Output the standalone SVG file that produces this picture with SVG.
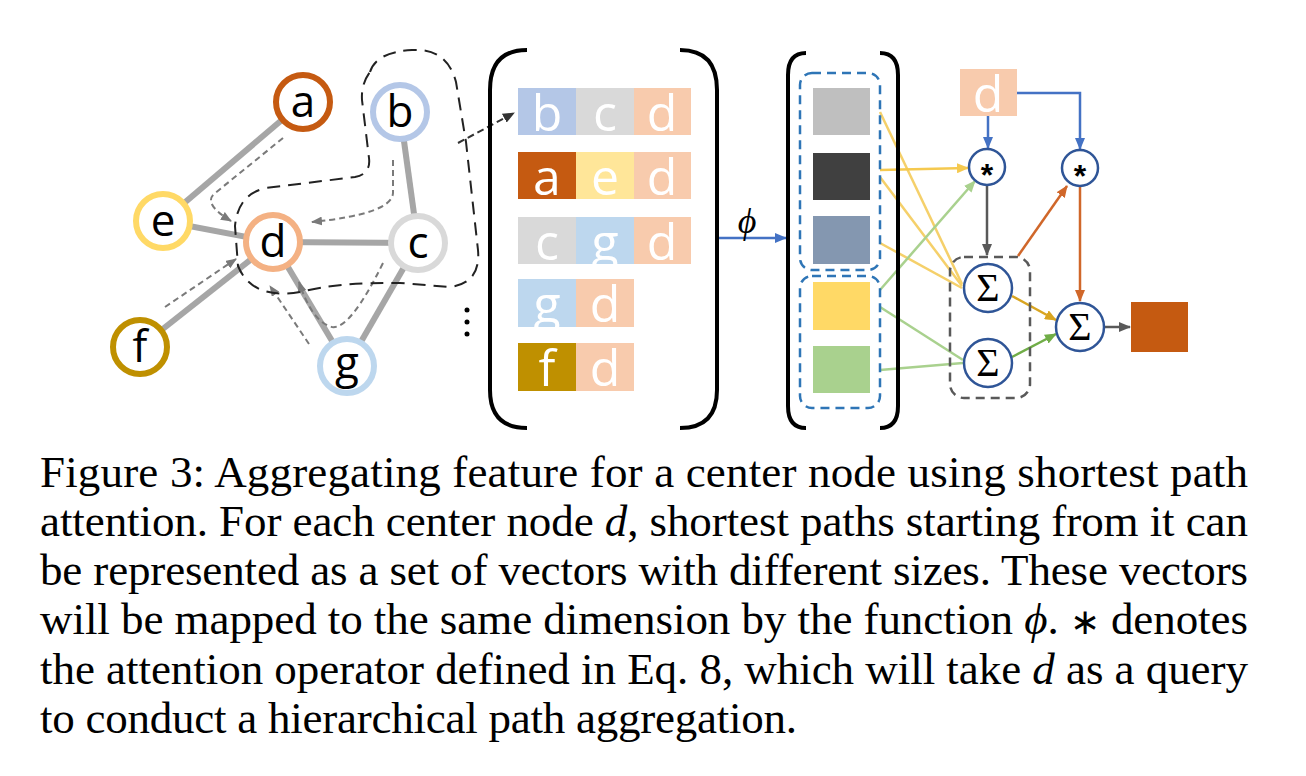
<svg xmlns="http://www.w3.org/2000/svg" width="1306" height="776" viewBox="0 0 1306 776">
<style>
.edge{stroke:#a6a6a6;stroke-width:6;fill:none}
.darr{stroke:#7a7a7a;stroke-width:2;stroke-dasharray:6 4;fill:none}
.node{fill:#fff;stroke-width:6}
.nlab{font-family:"Open Sans","Noto Sans",sans-serif;font-size:44px;text-anchor:middle;fill:#000}
.clab{font-family:"Open Sans","Noto Sans",sans-serif;font-size:50px;text-anchor:middle;fill:#fff}
.brk{stroke:#000;stroke-width:4;fill:none}
.bdash{stroke:#2e75b6;stroke-width:2.5;stroke-dasharray:9 6;fill:none}
.gdash{stroke:#595959;stroke-width:2.5;stroke-dasharray:9 6;fill:none}
.op{fill:#fff;stroke:#2f5597;stroke-width:2.5}
.sig{font-family:"Liberation Serif","DejaVu Serif",serif;font-size:40px;text-anchor:middle;fill:#000}
.ast{font-family:"Liberation Sans",sans-serif;font-size:32px;font-weight:bold;text-anchor:middle;fill:#000}
.cap{font-family:"Liberation Serif","Times New Roman",serif;font-size:45px;fill:#000}
.it{font-style:italic}
</style>
<defs>
<marker id="mGray" markerUnits="userSpaceOnUse" markerWidth="11" markerHeight="9" refX="10" refY="4.5" orient="auto"><path d="M0,0 L11,4.5 L0,9 z" fill="#7a7a7a"/></marker>
<marker id="mBlack" markerUnits="userSpaceOnUse" markerWidth="12" markerHeight="10" refX="11" refY="5" orient="auto"><path d="M0,0 L12,5 L0,10 z" fill="#333"/></marker>
<marker id="mBlue" markerUnits="userSpaceOnUse" markerWidth="12" markerHeight="10" refX="11" refY="5" orient="auto"><path d="M0,0 L12,5 L0,10 z" fill="#4472c4"/></marker>
<marker id="mDark" markerUnits="userSpaceOnUse" markerWidth="12" markerHeight="10" refX="11" refY="5" orient="auto"><path d="M0,0 L12,5 L0,10 z" fill="#595959"/></marker>
<marker id="mOrange" markerUnits="userSpaceOnUse" markerWidth="12" markerHeight="10" refX="11" refY="5" orient="auto"><path d="M0,0 L12,5 L0,10 z" fill="#d0672a"/></marker>
<marker id="mGold" markerUnits="userSpaceOnUse" markerWidth="12" markerHeight="10" refX="11" refY="5" orient="auto"><path d="M0,0 L12,5 L0,10 z" fill="#d9a521"/></marker>
<marker id="mGreen" markerUnits="userSpaceOnUse" markerWidth="12" markerHeight="10" refX="11" refY="5" orient="auto"><path d="M0,0 L12,5 L0,10 z" fill="#70ad47"/></marker>
<marker id="mYellow" markerUnits="userSpaceOnUse" markerWidth="12" markerHeight="10" refX="11" refY="5" orient="auto"><path d="M0,0 L12,5 L0,10 z" fill="#f5c94f"/></marker>
<marker id="mLGreen" markerUnits="userSpaceOnUse" markerWidth="12" markerHeight="10" refX="11" refY="5" orient="auto"><path d="M0,0 L12,5 L0,10 z" fill="#a9d18e"/></marker>
</defs>
<rect width="1306" height="776" fill="#fff"/>

<!-- connectors -->
<g id="connectors">
  <!-- graph edges -->
  <line class="edge" x1="303" y1="102" x2="163" y2="221"/>
  <line class="edge" x1="163" y1="221" x2="273" y2="242"/>
  <line class="edge" x1="273" y1="242" x2="418" y2="243"/>
  <line class="edge" x1="400" y1="112" x2="418" y2="243"/>
  <line class="edge" x1="140" y1="347" x2="273" y2="242"/>
  <line class="edge" x1="273" y1="242" x2="347" y2="366"/>
  <line class="edge" x1="347" y1="366" x2="418" y2="243"/>
  <!-- dashed path arrows -->
  <path class="darr" d="M283,138 L214,194 Q203,204 231,221" marker-end="url(#mGray)"/>
  <path class="darr" d="M393,160 L393,193 Q392,214 312,222" marker-end="url(#mGray)"/>
  <path class="darr" d="M165,307 L236,259" marker-end="url(#mGray)"/>
  <path class="darr" d="M309,344 L270,286" marker-end="url(#mGray)"/>
  <path class="darr" d="M383,263 Q350,330 332,327 Q312,322 299,282" marker-end="url(#mGray)"/>
  <!-- boundary -->
  <path d="M370,72 Q376,52 412,50 Q447,48 456,82 L466,142 L478,250 Q481,283 450,287 L400,283 Q340,282 300,292 Q252,300 238,266 L235,226 Q238,194 266,188 L355,177 Q371,174 369,158 L362,100 Q361,84 370,72 Z" fill="none" stroke="#222" stroke-width="2" stroke-dasharray="13 8"/>
  <path d="M458,143 L514,113" fill="none" stroke="#333" stroke-width="2" stroke-dasharray="7 4" marker-end="url(#mBlack)"/>
  <!-- phi arrow -->
  <line x1="717" y1="238" x2="786" y2="238" stroke="#4472c4" stroke-width="2.5" marker-end="url(#mBlue)"/>
  <!-- yellow -->
  <line x1="880" y1="112" x2="962" y2="284" stroke="#f5d06a" stroke-width="2.5"/>
  <line x1="880" y1="170" x2="968" y2="168" stroke="#f5c94f" stroke-width="2.5" marker-end="url(#mYellow)"/>
  <line x1="880" y1="177" x2="962" y2="286" stroke="#f5d06a" stroke-width="2.5"/>
  <line x1="880" y1="243" x2="962" y2="288" stroke="#f5d06a" stroke-width="2.5"/>
  <!-- green -->
  <line x1="880" y1="290" x2="975" y2="181" stroke="#a9d18e" stroke-width="2.5" marker-end="url(#mLGreen)"/>
  <line x1="880" y1="307" x2="963" y2="360" stroke="#a9d18e" stroke-width="2.5"/>
  <line x1="880" y1="370" x2="963" y2="363" stroke="#a9d18e" stroke-width="2.5"/>
  <!-- d query -->
  <line x1="988" y1="116" x2="988" y2="148" stroke="#4472c4" stroke-width="2.5" marker-end="url(#mBlue)"/>
  <path d="M1017,93 L1080,93 L1080,149" fill="none" stroke="#4472c4" stroke-width="2.5" marker-end="url(#mBlue)"/>
  <line x1="987" y1="185" x2="987" y2="255" stroke="#595959" stroke-width="2.5" marker-end="url(#mDark)"/>
  <line x1="1018" y1="256" x2="1067" y2="186" stroke="#d0672a" stroke-width="2.5" marker-end="url(#mOrange)"/>
  <line x1="1080" y1="186" x2="1080" y2="301" stroke="#d0672a" stroke-width="2.5" marker-end="url(#mOrange)"/>
  <line x1="1012" y1="296" x2="1056" y2="320" stroke="#d9a521" stroke-width="2.5" marker-end="url(#mGold)"/>
  <line x1="1012" y1="357" x2="1056" y2="334" stroke="#70ad47" stroke-width="2.5" marker-end="url(#mGreen)"/>
  <line x1="1105" y1="327" x2="1130" y2="327" stroke="#595959" stroke-width="2.5" marker-end="url(#mDark)"/>
</g>

<!-- graph nodes -->
<g id="node-a"><circle class="node" cx="303" cy="102" r="27" stroke="#c55a11"/><text class="nlab" x="303" y="117">a</text></g>
<g id="node-b"><circle class="node" cx="400" cy="112" r="27" stroke="#b4c7e7"/><text class="nlab" x="400" y="127">b</text></g>
<g id="node-e"><circle class="node" cx="163" cy="221" r="27" stroke="#ffd966"/><text class="nlab" x="163" y="236">e</text></g>
<g id="node-d"><circle class="node" cx="273" cy="242" r="27" stroke="#f4b183"/><text class="nlab" x="273" y="257">d</text></g>
<g id="node-c"><circle class="node" cx="418" cy="243" r="27" stroke="#d9d9d9"/><text class="nlab" x="418" y="258">c</text></g>
<g id="node-f"><circle class="node" cx="140" cy="347" r="27" stroke="#bf9000"/><text class="nlab" x="140" y="362">f</text></g>
<g id="node-g"><circle class="node" cx="347" cy="366" r="27" stroke="#bdd7ee"/><text class="nlab" x="347" y="378">g</text></g>

<g id="ellipsis" fill="#000"><circle cx="467" cy="310" r="2.5"/><circle cx="467" cy="322" r="2.5"/><circle cx="467" cy="334" r="2.5"/></g>

<!-- path matrix -->
<g id="path-matrix">
  <path class="brk" d="M527,50 Q490,50 490,90 L490,390 Q490,428 527,428"/>
  <path class="brk" d="M680,50 Q717,50 717,90 L717,390 Q717,428 680,428"/>
  <rect x="518" y="88" width="58" height="47" fill="#b4c7e7"/><rect x="576" y="88" width="58" height="47" fill="#d9d9d9"/><rect x="634" y="88" width="57" height="47" fill="#f8cbad"/>
  <text class="clab" x="547" y="131">b</text><text class="clab" x="605" y="131">c</text><text class="clab" x="662" y="131">d</text>
  <rect x="518" y="152" width="58" height="47" fill="#c55a11"/><rect x="576" y="152" width="58" height="47" fill="#ffe699"/><rect x="634" y="152" width="57" height="47" fill="#f8cbad"/>
  <text class="clab" x="547" y="195">a</text><text class="clab" x="605" y="195">e</text><text class="clab" x="662" y="195">d</text>
  <rect x="518" y="217" width="58" height="47" fill="#d9d9d9"/><rect x="576" y="217" width="58" height="47" fill="#bdd7ee"/><rect x="634" y="217" width="57" height="47" fill="#f8cbad"/>
  <text class="clab" x="547" y="260">c</text><text class="clab" x="605" y="260">g</text><text class="clab" x="662" y="260">d</text>
  <rect x="518" y="279" width="58" height="48" fill="#bdd7ee"/><rect x="576" y="279" width="58" height="48" fill="#f8cbad"/>
  <text class="clab" x="547" y="322">g</text><text class="clab" x="605" y="322">d</text>
  <rect x="518" y="343" width="58" height="48" fill="#bf9000"/><rect x="576" y="343" width="58" height="48" fill="#f8cbad"/>
  <text class="clab" x="547" y="386">f</text><text class="clab" x="605" y="386">d</text>
</g>

<text id="phi-label" x="747" y="233" font-family="Liberation Serif,DejaVu Serif,serif" font-size="36" font-style="italic" text-anchor="middle">ϕ</text>

<!-- mapped vectors -->
<g id="mapped-matrix">
  <path class="brk" d="M806,53 Q788,53 788,75 L788,406 Q788,428 806,428"/>
  <path class="brk" d="M880,53 Q898,53 898,75 L898,406 Q898,428 880,428"/>
  <rect class="bdash" x="800" y="73" width="80" height="197" rx="12"/>
  <rect class="bdash" x="800" y="276" width="80" height="132" rx="12"/>
  <rect x="813" y="88" width="57" height="47" fill="#bfbfbf"/>
  <rect x="813" y="153" width="57" height="47" fill="#404040"/>
  <rect x="813" y="216" width="57" height="48" fill="#8497b0"/>
  <rect x="813" y="282" width="57" height="48" fill="#ffd966"/>
  <rect x="813" y="346" width="57" height="47" fill="#a9d18e"/>
</g>

<g id="query-d"><rect x="960" y="69" width="57" height="47" fill="#f8cbad"/><text class="clab" x="988" y="112">d</text></g>
<g id="att-1"><circle class="op" cx="987" cy="167" r="18"/><text class="ast" x="987" y="186">*</text></g>
<g id="att-2"><circle class="op" cx="1080" cy="168" r="18"/><text class="ast" x="1080" y="187">*</text></g>
<g id="sum-group"><rect class="gdash" x="950" y="257" width="80" height="141" rx="14"/></g>
<g id="sum-1"><circle class="op" cx="988" cy="288" r="24"/><text class="sig" x="988" y="301">Σ</text></g>
<g id="sum-2"><circle class="op" cx="988" cy="363" r="24"/><text class="sig" x="988" y="376">Σ</text></g>
<g id="sum-3"><circle class="op" cx="1080" cy="327" r="24"/><text class="sig" x="1080" y="340">Σ</text></g>
<g id="output"><rect x="1131" y="302" width="57" height="50" fill="#c55a11"/></g>

<!-- caption -->
<g id="caption">
<text class="cap" x="40" y="487" textLength="1208" lengthAdjust="spacing">Figure 3: Aggregating feature for a center node using shortest path</text>
<text class="cap" x="40" y="536" textLength="1208" lengthAdjust="spacing">attention. For each center node <tspan class="it">d</tspan>, shortest paths starting from it can</text>
<text class="cap" x="40" y="585" textLength="1208" lengthAdjust="spacing">be represented as a set of vectors with different sizes. These vectors</text>
<text class="cap" x="40" y="634" textLength="1208" lengthAdjust="spacing">will be mapped to the same dimension by the function <tspan class="it">ϕ</tspan>. <tspan font-size="36">∗</tspan> denotes</text>
<text class="cap" x="40" y="684" textLength="1208" lengthAdjust="spacing">the attention operator defined in Eq. 8, which will take <tspan class="it">d</tspan> as a query</text>
<text class="cap" x="40" y="733" textLength="757" lengthAdjust="spacing">to conduct a hierarchical path aggregation.</text>
</g>
</svg>
